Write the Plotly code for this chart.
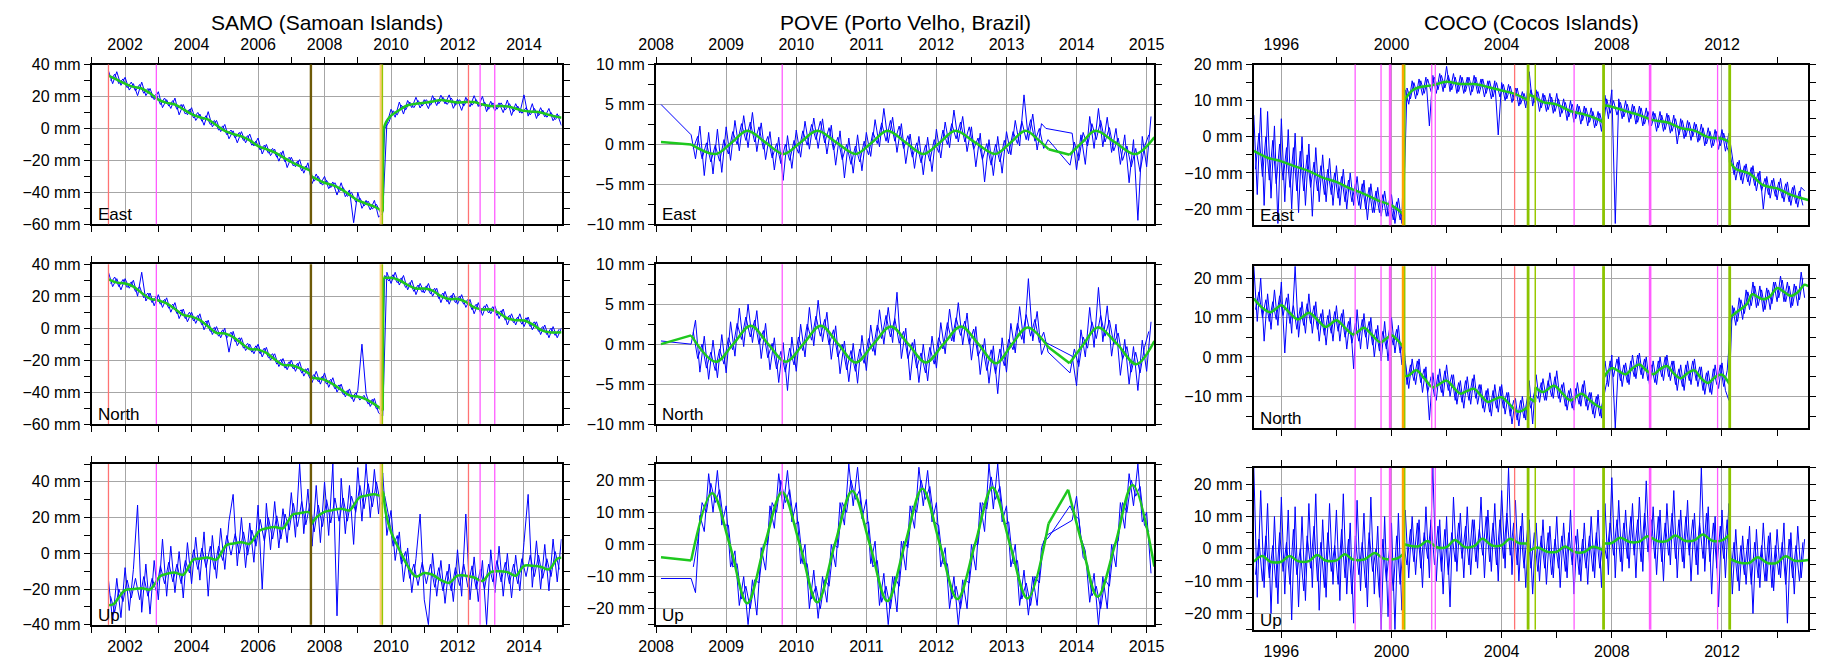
import plotly.graph_objects as go

W, H = 1831, 664


def epochs(t0, step, n):
    """Regular sampling epochs (decimal years)."""
    return [round(t0 + k * step, 5) for k in range(n)]


# ======================= SAMO (Samoan Islands) =======================
samo_t0, samo_step = 2001.5, 0.125

# positions on the main epochs
samo_east = [36, 28, 35.5, 27, 32, 24, 28, 20.5, 29, 20.5,
             25, 18, 23, 13, 18, 12.5, 19, 8.5, 15, 8.5,
             13, 5, 9, 2, 10.5, 1, 5, -2, 2.5, -6.5,
             -1.5, -9, -2, -9, -3.5, -11, -6, -16, -10, -17,
             -13, -20.5, -14, -24.5, -18, -24, -19.5, -28, -21.5, -34.5,
             -28.5, -34.7, -30, -37.7, -33.5, -41.7, -34, -42.7, -38.5, -59,
             -40, -50, -45, -51, -45, -55.5, -53, 3, 12, 7,
             16.5, 9, 17.5, 13, 19.5, 12.8, 18, 12.4, 20.5, 14.3,
             20.8, 15.4, 21, 12.6, 18.2, 11.3, 19.5, 13.5, 20.5, 13.7,
             20, 10.5, 17, 11, 16, 9.9, 17.8, 8.1, 15.5, 9.7,
             21, 7.7, 15.5, 6.2, 13, 7.2, 12.5, 4.8, 9.2, 1.8]
# positions on the intermediate epochs
samo_east_b = [30, 34, 28, 31, 25.5, 29, 23.5, 27.5, 22, 25,
               19, 21.5, 15, 19, 14, 17.5, 12, 15, 9, 12,
               6.5, 10, 4.5, 8, 2.5, 5, -1, 1.5, -4, -1,
               -6, -2.5, -7.5, -4.5, -10.5, -8, -13.5, -10.5, -15.5, -12.5,
               -18, -15, -21, -18, -23.5, -20.5, -26.5, -23.5, -27, -33,
               -30, -35.5, -32.5, -37, -34, -39.5, -37, -42.5, -40, -46,
               -43.5, -48.5, -45.5, -50.5, -47.5, -53, 0, 4, 11, 8.5,
               14.5, 11.5, 16.5, 13, 17.5, 14, 18, 14.5, 19, 15.5,
               19.5, 15, 19, 14.5, 18, 14, 18.5, 14.5, 18, 13.5,
               16.5, 12, 16, 12, 16, 11.5, 15.5, 10.5, 14, 9.5,
               13, 8.5, 12.5, 8, 11.5, 7, 10, 5.5, 8.5]

samo_north = [35, 26, 31, 24, 31, 25, 30, 20, 35, 17,
              22, 14, 21, 13, 19, 10, 16, 6, 12, 4,
              10, 3, 9, -1, 5, -4, 1, -6, 0, -15,
              -2, -11, -6, -14, -10, -16, -10, -18, -12, -20,
              -16, -24, -19, -26, -20, -27, -21, -30, -25, -34,
              -27, -35, -28, -37, -31, -40, -35, -43, -38, -46,
              -39, -10, -41, -49, -44, -53, -55, 35, 28, 35,
              27, 33, 24, 30, 21, 28, 22, 28, 20, 25,
              16, 23, 15, 22, 15, 21, 13, 18, 9, 16,
              8, 15, 9, 14, 6, 12, 2, 9, 2, 9,
              1, 7, -1, 4, -4, 2, -6, 1, -6, 0]
samo_north_b = [28, 32, 26, 30.5, 25.5, 29, 23, 26, 19, 22,
                16, 20, 15, 18, 12.5, 15, 9, 11.5, 6, 10,
                4.5, 8, 2, 4.5, -2, 0.5, -5, -1, -6, -2.5,
                -8.5, -6, -12.5, -9.5, -15, -11, -16, -12.5, -18.5, -16,
                -22.5, -19.5, -25, -21, -25.5, -22, -28, -25.5, -31.5, -29,
                -33.5, -30, -35, -32, -38, -35.5, -41.5, -39, -44, -40.5,
                -45, -42, -47.5, -44.5, -50.5, -48.5, 33, 29.5, 33.5, 28.5,
                31.5, 25.5, 28.5, 23, 27, 22.5, 26.5, 21.5, 25, 18.5,
                22, 16.5, 20.5, 16, 20, 15, 18, 11.5, 15, 10,
                14, 9.5, 13.5, 8, 11, 5, 8, 3.5, 7, 2.5,
                6.5, 1, 4, -2, 1, -4, 0, -4.5, -0.5]

samo_up = [-15, -38, -14, -36, -8, -32, -9, 27, -33, -6,
           -34, -4, -26, 8, -24, 4, -22, 1, -25, 6,
           -17, 9, -15, 12, -24, 10, -14, 14, -9, 18,
           33, -7, 20, -8, 17, -5, 27, -20, 28, 2,
           29, 3, 25, 6, 34, 9, 50, 11, 36, 4,
           38, 6, 40, 10, 50, -35, 42, 11, 38, 5,
           48, 18, 50, 20, 47, 22, 45, 10, 24, -4,
           12, -16, 3, -22, -3, 22, -26, -40, 0, -24,
           -4, -28, -6, -27, 2, -24, 22, -26, -2, -27,
           -4, -40, 2, -22, 4, -24, 0, -25, -1, -21,
           6, 33, -19, 7, -20, 5, -21, 8, -16, 8]
samo_up_b = [-24, -33, -20, -27, -15, -25, -14, -26, -13, -24,
             -14, -21, -7, -17, -5, -16, -6, -17, -4, -11,
             2, -9, 3, -8, 4, -9, 4, -4, 10, -1,
             11, 0, 12, -1, 13, 4, 19, 7, 20, 8,
             21, 8, 22, 13, 28, 15, 29, 16, 28, 12,
             27, 15, 30, 17, 31, 18, 31, 18, 32, 23,
             38, 25, 39, 26, 40, 27, 32, 20, 4, 10,
             -6, 1, -14, -6, -18, -5, -17, -6, -19, -8,
             -21, -10, -21, -8, -18, -6, -19, -7, -20, -9,
             -20, -6, -16, -4, -16, -5, -17, -6, -17, -3,
             -13, -1, -13, -1, -14, -3, -13, 1, -9]

# trajectory model, one list of [year, mm] per segment between offsets
samo_east_fit = [
    [[2001.5, 33], [2001.75, 30.5], [2002.0, 28], [2002.25, 26], [2002.5, 25], [2002.75, 22],
     [2003.0, 18], [2003.25, 16], [2003.5, 15], [2003.75, 12], [2004.0, 9], [2004.25, 7],
     [2004.5, 5.5], [2004.75, 2], [2005.0, -1.5], [2005.25, -3.5], [2005.5, -5], [2005.75, -7.5],
     [2006.0, -11], [2006.25, -13], [2006.5, -15], [2006.75, -18], [2007.0, -21], [2007.25, -23.5],
     [2007.58, -26.5]],
    [[2007.6, -30], [2007.75, -31.5], [2008.0, -34], [2008.25, -35.5], [2008.5, -38],
     [2008.75, -41.5], [2009.0, -45], [2009.25, -47], [2009.5, -49], [2009.75, -52]],
    [[2009.77, -1], [2009.85, 4], [2010.0, 8], [2010.25, 11.5], [2010.5, 14.5], [2010.75, 15.5],
     [2011.0, 16], [2011.25, 16.8], [2011.5, 17.8], [2011.75, 17], [2012.0, 16.2], [2012.25, 16.5],
     [2012.5, 16.5], [2012.75, 15], [2013.0, 14], [2013.25, 14], [2013.5, 13.8], [2013.75, 12.5],
     [2014.0, 11], [2014.25, 10.5], [2014.5, 10], [2014.75, 8.5], [2015.13, 6.7]],
]
samo_north_fit = [
    [[2001.5, 30.5], [2001.75, 28.5], [2002.0, 28], [2002.25, 26], [2002.5, 22], [2002.75, 18.5],
     [2003.0, 17.3], [2003.25, 15.5], [2003.5, 12], [2003.75, 8.3], [2004.0, 7.2], [2004.25, 5],
     [2004.5, 1], [2004.75, -3], [2005.0, -3.3], [2005.25, -5.5], [2005.5, -9.5], [2005.75, -13],
     [2006.0, -13.4], [2006.25, -15.5], [2006.5, -19.5], [2006.75, -23], [2007.0, -23.2],
     [2007.25, -25], [2007.58, -29]],
    [[2007.6, -30.8], [2007.75, -31.3], [2008.0, -32.3], [2008.25, -35], [2008.5, -38.5],
     [2008.75, -42], [2009.0, -42.8], [2009.25, -44.5], [2009.5, -47.5], [2009.75, -51.5]],
    [[2009.77, 31.5], [2010.0, 31.5], [2010.25, 30], [2010.5, 27], [2010.75, 24.8], [2011.0, 24.8],
     [2011.25, 23.5], [2011.5, 20], [2011.75, 18.2], [2012.0, 18.3], [2012.25, 16.5], [2012.5, 13],
     [2012.75, 11.7], [2013.0, 11.7], [2013.25, 9.5], [2013.5, 6.2], [2013.75, 5], [2014.0, 4.8],
     [2014.25, 2.5], [2014.5, -1], [2014.75, -2.5], [2015.13, -2.5]],
]
samo_up_fit = [
    [[2001.5, -29], [2001.65, -28.5], [2001.8, -25], [2002.0, -20.6], [2002.25, -20], [2002.5, -19.5],
     [2002.75, -20.3], [2002.9, -17], [2003.05, -12.8], [2003.25, -11.5], [2003.5, -10.8],
     [2003.75, -12], [2003.9, -8], [2004.05, -3.6], [2004.25, -3], [2004.5, -2.4], [2004.75, -3.5],
     [2004.9, 0.5], [2005.05, 4.6], [2005.25, 5.5], [2005.5, 6.2], [2005.75, 5.3], [2005.9, 9],
     [2006.05, 12.8], [2006.25, 14], [2006.5, 14.8], [2006.75, 14], [2006.9, 18], [2007.05, 21.8],
     [2007.25, 22.5], [2007.5, 23.2], [2007.58, 22.6]],
    [[2007.6, 16.3], [2007.75, 20], [2008.0, 23.2], [2008.25, 24.2], [2008.5, 25], [2008.75, 24],
     [2008.9, 27.5], [2009.05, 31.3], [2009.25, 32.3], [2009.5, 33.1], [2009.7, 32.3], [2009.75, 34.5]],
    [[2009.77, 34], [2009.85, 22], [2010.0, 12], [2010.25, 2], [2010.5, -7], [2010.75, -13],
     [2011.0, -11], [2011.25, -12], [2011.5, -15], [2011.75, -16.5], [2012.0, -12.5], [2012.25, -12.5],
     [2012.5, -13.5], [2012.75, -15.5], [2013.0, -10.5], [2013.25, -10], [2013.5, -10.5],
     [2013.75, -12.5], [2014.0, -7], [2014.25, -7], [2014.5, -7.5], [2014.75, -9], [2015.0, -3],
     [2015.13, -2.5]],
]
samo_events = [[2001.50, 'eq'], [2002.94, 'rx'], [2007.59, 'misc'], [2009.69, 'dome'],
               [2009.74, 'ant'], [2012.33, 'eq'], [2012.68, 'rx'], [2013.12, 'rx']]

# ======================= POVE (Porto Velho, Brazil) =======================
pove_t0, pove_step = 2008.5, 0.0625
pove_first_epoch = 2008.07          # isolated early observation
pove_first = {'East': 5.0, 'North': 0.4, 'Up': -10.6}

pove_east = [1.2, -1.8, 2.3, -3.9, 1.5, -3.7, 1.9, -3.5, 2.2, -2.0,
             3.0, -0.8, 3.6, -0.4, 4.0, -0.9, 2.7, -1.9, 1.6, -3.2,
             0.9, -4.5, 1.1, -3.0, 1.8, -1.6, 2.9, -0.6, 3.3, -0.5,
             3.2, -1.2, 2.4, -2.6, 1.7, -4.2, 0.8, -3.6, 1.2, -3.3,
             1.5, -1.5, 3.1, -0.3, 4.5, 0.2, 3.4, -1.0, 2.6, -2.4,
             1.3, -3.0, 1.0, -3.8, 0.9, -3.4, 1.9, -1.7, 2.8, -0.4,
             4.3, 0.3, 3.5, -0.9, 2.2, -2.8, 1.4, -4.7, 0.6, -3.9,
             1.0, -3.6, 1.6, -1.3, 3.0, -0.2, 6.2, 0.5, 3.8, -0.7,
             2.6, 2.0, None, None, None, None, None, 1.4, -3.2, 1.2,
             -2.5, 3.5, -0.5, 4.5, -0.3, 3.4, -1.0, 2.0, -2.5, 1.2,
             -4.8, 0.6, -9.5, 1.0, -2.8, 3.5]
pove_east_b = [-0.5, 1.0, -1.8, 0.2, -2.2, -0.1, -2.1, 0.6, -1.2, 1.6,
               0.0, 2.6, 0.5, 2.8, 0.3, 2.2, -0.6, 1.0, -1.7, 0.1,
               -2.4, 0.0, -2.0, 0.5, -1.1, 1.7, -0.1, 2.5, 0.6, 2.9,
               0.2, 2.1, -0.7, 0.9, -1.9, 0.0, -2.5, -0.2, -2.2, 0.4,
               -1.3, 1.5, 0.1, 2.7, 0.4, 3.0, 0.4, 2.3, -0.5, 1.1,
               -1.6, 0.2, -2.3, -0.1, -2.1, 0.6, -1.0, 1.8, 0.0, 2.6,
               0.7, 2.8, 0.3, 2.2, -0.6, 0.8, -1.9, 0.1, -2.6, 0.0,
               -2.2, 0.5, -1.2, 1.6, 0.1, 2.9, 0.6, 3.1, 0.4, 2.0,
               -0.5, 0.6, None, None, None, None, -2.6, 0.3, -2.0, 1.5,
               -0.2, 2.6, 0.6, 3.0, 0.3, 2.1, -0.8, 0.8, -2.0, -0.2,
               -2.8, -0.5, -3.4, -0.3, 1.2]

pove_north = [0.0, 3.0, -3.5, 1.0, -4.4, 0.5, -4.2, 1.2, -3.6, 2.8,
              -1.5, 4.5, -0.3, 5.0, 0.2, 4.2, -1.8, 2.6, -3.2, 0.8,
              -4.8, 0.2, -5.8, 0.9, -3.4, 2.5, -1.6, 4.6, -0.2, 5.5,
              0.3, 4.0, -1.9, 2.3, -3.7, 0.4, -4.7, 0.1, -4.9, 1.1,
              -3.3, 2.4, -1.4, 4.3, 0.0, 4.6, 0.2, 6.5, -1.8, 2.0,
              -4.5, 0.6, -4.8, 0.0, -4.6, 1.0, -3.0, 2.7, -1.2, 4.4,
              0.3, 5.2, -0.1, 3.9, -2.0, 2.2, -3.8, 0.7, -4.9, -0.2,
              -6.2, 0.8, -3.5, 2.6, -1.1, 4.7, 0.1, 8.2, 0.4, 4.1,
              -1.3, 0.2, None, None, None, None, None, -1.5, -5.2, 1.8,
              -1.6, 4.6, -0.4, 7.1, 0.3, 4.8, -1.5, 2.5, -3.9, 0.6,
              -5.0, -0.3, -5.8, 0.5, -3.4, 2.8]
pove_north_b = [1.5, -1.8, 0.0, -3.0, -1.0, -3.3, -0.6, -2.5, 0.8, -0.7,
                2.6, 0.6, 3.4, 0.9, 3.0, 0.0, 1.7, -1.7, 0.1, -3.1,
                -0.9, -3.5, -0.5, -2.6, 0.9, -0.8, 2.5, 0.5, 3.5, 1.0,
                3.1, -0.1, 1.8, -1.6, 0.0, -3.2, -0.8, -3.4, -0.6, -2.4,
                0.7, -0.9, 2.4, 0.7, 3.6, 0.9, 3.2, 0.1, 1.6, -1.8,
                0.2, -3.0, -1.1, -3.6, -0.4, -2.5, 0.8, -0.6, 2.7, 0.4,
                3.3, 1.1, 2.9, 0.0, 1.9, -1.5, -0.1, -3.3, -0.7, -3.7,
                -0.6, -2.7, 0.6, -0.7, 2.6, 0.6, 3.7, 1.0, 3.1, 0.2,
                1.5, -1.0, None, None, None, None, -3.6, -0.6, -2.8, 0.9,
                -0.5, 2.8, 0.7, 3.6, 1.0, 3.0, 0.0, 1.4, -1.9, -0.3,
                -3.5, -1.0, -3.6, -0.4, 1.6]

pove_up = [-10.6, -15, 9, 4, 22, 10, 23, 6, 12, -7,
           -2, -19, -10, -25, -11, -22, -1, -8, 12, 5,
           22, 11, 23, 7, 13, -6, 0, -20, -8, -23,
           -10, -18, 0, -7, 13, 6, 25, 12, 24, 8,
           14, -6, 1, -19, -9, -25, -10, -21, 1, -8,
           12, 5, 24, 12, 23, 7, 13, -7, -1, -20,
           -10, -25, -11, -20, 0, -8, 13, 4, 25, 11,
           25, 7, 12, -7, 0, -19, -8, -22, -10, -19,
           -1, 2.7, None, None, None, None, None, 7.5, 15, 2,
           -2, -18, -9, -25, -10, -20, 0, -7, 13, 5,
           22, 12, 25, 7, 10, -9]
pove_up_b = [-7, 1, 13, 10, 19, 13, 17, 6, 6, -7,
             -6, -17, -13, -20, -11, -12, 0, 0, 13, 10,
             20, 13, 17, 6, 7, -6, -6, -17, -13, -20,
             -11, -13, 0, -1, 13, 10, 20, 14, 17, 6,
             7, -7, -5, -18, -13, -20, -10, -13, 1, -1,
             12, 10, 20, 14, 18, 7, 6, -6, -6, -17,
             -13, -20, -11, -12, 0, 0, 13, 11, 21, 14,
             18, 6, 7, -6, -5, -17, -12, -19, -10, -12,
             1, 2, None, None, None, None, 12, 9, 8, -4,
             -6, -16, -13, -20, -11, -13, 0, 1, 13, 10,
             20, 15, 18, 6, 4]

pove_east_fit = [
    [[2008.07, 0.3]],
    [[2008.5, 0.0], [2008.85, -1.2], [2009.08, 0.25], [2009.3, 1.7], [2009.56, 0.25], [2009.82, -1.2],
     [2010.06, 0.25], [2010.3, 1.7], [2010.57, 0.25], [2010.85, -1.2], [2011.08, 0.25], [2011.3, 1.7],
     [2011.56, 0.25], [2011.82, -1.2], [2012.05, 0.25], [2012.27, 1.7], [2012.55, 0.25], [2012.84, -1.2],
     [2013.06, 0.25], [2013.27, 1.7], [2013.45, 0.6], [2013.6, -0.6]],
    [[2013.9, -1.3], [2014.08, 0.25], [2014.27, 1.7], [2014.55, 0.25], [2014.84, -1.2], [2015.11, 0.9]],
]
pove_north_fit = [
    [[2008.07, 0.0]],
    [[2008.5, 1.1], [2008.85, -2.2], [2009.1, 0], [2009.35, 2.3], [2009.6, 0], [2009.85, -2.2],
     [2010.1, 0], [2010.35, 2.3], [2010.6, 0], [2010.85, -2.3], [2011.1, 0], [2011.35, 2.2],
     [2011.6, 0], [2011.85, -2.3], [2012.1, 0], [2012.35, 2.2], [2012.6, 0], [2012.85, -2.4],
     [2013.08, 0], [2013.3, 2.1], [2013.6, -0.4]],
    [[2013.9, -2.4], [2014.1, 0], [2014.3, 2.1], [2014.58, 0], [2014.85, -2.5], [2015.11, 0.4]],
]
pove_up_fit = [
    [[2008.07, -4.0]],
    [[2008.5, -5.0], [2008.8, 15.9], [2009.05, 0], [2009.3, -18.3], [2009.55, 0], [2009.8, 16.2],
     [2010.05, 0], [2010.3, -18], [2010.55, 0], [2010.8, 16.6], [2011.05, 0], [2011.3, -17.6],
     [2011.55, 0], [2011.8, 17.3], [2012.05, 0], [2012.3, -17], [2012.55, 0], [2012.8, 17.7],
     [2013.05, 0], [2013.3, -16.8], [2013.6, 6.5]],
    [[2013.88, 17], [2014.08, 0], [2014.3, -16.3], [2014.55, 0], [2014.8, 18.5], [2015.11, -6.9]],
]
pove_events = [[2009.80, 'rx']]

# ======================= COCO (Cocos Islands) =======================
coco_t0, coco_step = 1995.0, 0.125

coco_east = [6, -16, 8, -19, 7, -17, 3, -24, 5, -18,
             2, -20, 1, -21, 0, -19, -2, -22, -3, -18,
             -5, -18, -6, -19, -8, -19, -9, -20, -10, -19,
             -11, -20, -12, -23, -13, -21, -14, -22, -15, -22,
             -16, -24, -17, -24, 13, 9, 15.5, 10.5, 16, 11.5,
             16.5, 3, 17, 12, 17.5, 12.5, 19.5, 12.5, 17.5, 12,
             17, 12, 16.5, 11.5, 17, 12, 16, 11, 15.5, 10.5,
             15.5, 0.5, 15, 10, 14.5, 9.5, 13.5, 8.5, 12.5, 8,
             18, 8.5, 13, 7, 12, 7, 12, 6.5, 12, 5.5,
             10.5, 4.5, 10, 4, 9, 3.5, 8.5, 3, 8, 2.5,
             7, 1.5, 11.5, 5, 13, -24, 10.5, 5, 10, 4,
             9, 3.5, 8.5, 3, 8, 2.5, 7, 1.5, 7, 1.5,
             6.5, 1, 6, -2, 5, -0.5, 4.5, -1, 4, -1.5,
             3.5, -2.5, 2.5, -3, 2, -3.5, 2, -4, 1, -5,
             -12, -6.5, -13, -7.5, -13.5, -8, -15, -9.5, -20, -11,
             -17, -11.5, -17.5, -11.5, -18, -12.5, -19, -13.5, -19.5, -14,
             -15]
coco_east_b = [-9, 1, -11, 0, -12, -1, -13, -2, -12, -3,
               -14, -3, -15, -4, -15, -5, -14, -7, -15, -8,
               -16, -9, -16, -10, -17, -11, -18, -12, -18, -13,
               -19, -13, -20, -14, -21, -15, -21, -16, -22, -17,
               -23, -18, -23, -20, 13.5, 10.5, 15, 11.5, 15.5, 12,
               16, 12.5, 16.5, 13, 17, 13.5, 17, 13, 16.5, 12.5,
               16.5, 12.5, 16.5, 12.5, 16.5, 12, 16, 12, 15.5, 11,
               15, 11, 14.5, 10.5, 14, 10, 13.5, 9, 12, 8.5,
               13, 9.5, 12.5, 8, 11.5, 7.5, 11, 7, 10.5, 6.5,
               9.5, 5.5, 9, 5, 8.5, 4.5, 8, 4, 7, 3,
               6.5, 2.5, 10.5, 6.5, 10, 6, 9.5, 5.5, 9, 5,
               8.5, 4, 8, 3.5, 7, 3, 6.5, 2.5, 6, 2,
               6, 1.5, 5, 0.5, 4.5, 0, 4, 0, 3.5, -1,
               2.5, -2, 1.5, -2.5, 1.5, -2.5, 1, -3, -5.5, -10.5,
               -7, -12, -8, -12.5, -8.5, -13.5, -10, -15, -11.5, -16,
               -12, -16.5, -12.5, -17, -13, -18, -14, -18.5, -15, -19]

coco_north = [23, 9, 20, 4, 16, 7, 17, 8, 19, 1,
              16, 6, 23, 5, 14, 6, 16, 6, 14, 4,
              12, 3, 12, 4, 13, 4, 12, 2, 10, -3,
              12, 2, 11, 2, 10, 0, 8, -1, 9, -1,
              10, 1, 8, -2, -1, -8, -0.5, -7, -0.5, -9,
              -2.5, -16, -4, -11, -3, -10, -2, -10, -4.5, -12,
              -6, -13, -5, -12, -4.5, -12, -7, -14, -8, -15,
              -7, -14, -7, -14.5, -9, -17, -10.5, -17.5, -10, -16,
              -6, -17, -4.5, -11.5, -5.5, -11, -4, -10.5, -3.5, -11.5,
              -6.5, -13.5, -8, -13.5, -6.5, -12.5, -6, -13.5, -9, -15.5,
              -9.5, -15.5, -1, -7.5, 0.5, -18, 0, -7.5, -1.5, -7,
              0.5, -5.5, 1, -5.5, 0, -7.5, -1, -7, 0, -6,
              0.5, -6, -1, -8.5, -2, -8.5, -1, -7, -0.5, -7.5,
              -2.5, -9.5, -3.5, -9.5, -2, -8, -1.5, -8.5, -11, 13,
              8, 15, 9.5, 17, 12, 19, 12.5, 18, 11.5, 17.5,
              12, 19, 14, 20.5, 14, 19, 12.5, 18.5, 13, 21.5,
              15]
coco_north_b = [12, 16.5, 10, 14.5, 9, 14, 9.5, 15.5, 10.5, 15,
                8.5, 13, 7, 12.5, 8, 13.5, 8.5, 13, 7, 11,
                5.5, 10.5, 6, 11.5, 6.5, 11, 5, 9, 3.5, 8.5,
                4, 9.5, 5, 9, 3, 7, 1.5, 6.5, 2, 7.5,
                3, 7, 1, 4.5, -7, -2, -6, -1, -6.5, -3,
                -9, -5, -10, -4.5, -9, -3.5, -8.5, -4.5, -11, -6.5,
                -11.5, -6, -11, -5.5, -10.5, -7, -13, -8.5, -14, -8.5,
                -13, -7.5, -13, -9, -15, -11, -16, -11, -15.5, -10,
                -13, -9, -10.5, -6.5, -11, -6, -10, -5, -10.5, -7,
                -12.5, -8.5, -13, -8, -12, -7, -12.5, -9, -14.5, -10,
                -15, -11, -6.5, -1, -5, -0.5, -6, -2, -6.5, -1,
                -5, 0.5, -4.5, -0.5, -6, -2, -6.5, -1, -5, 0,
                -5, -1, -7, -3, -7.5, -2, -6, -1, -6, -2.5,
                -8.5, -4, -9, -3, -7, -2, -7.5, -3.5, 8, 12.5,
                9, 14.5, 11, 16.5, 13, 18, 13, 17, 12, 17,
                13.5, 19, 15, 19.5, 14, 18, 13, 18, 14.5, 20]

coco_up = [25, -15, 18, -12, 14, -20, 10, -17, 16, -14,
           12, -22, 13, -18, 10, -16, 14, -12, 17, -19,
           9, -15, 14, -11, 12, -16, 17, -14, 8, -23,
           15, -13, 11, -18, 16, -14, 7, -25, 10, -21,
           8, -25, 11, -19, 12, -9, 10, -8, 9, -12,
           13, -9, 25, -10, 9, -14, 10, -18, 16, -7,
           11, -9, 13, -8, 9, -6, 16, -9, 12, -7,
           14, -10, 18, -6, 25, -8, 15, -10, 11, -12,
           9, -14, 8, -10, 9, -11, 7, -9, 10, -12,
           8, -9, 12, -14, 6, -10, 8, -11, 10, -9,
           12, -12, 14, -8, 22, -9, 15, -7, 12, -6,
           14, -9, 16, -7, 21, -6, 13, -8, 12, -10,
           14, -5, 18, -9, 12, -6, 15, -10, 11, -8,
           25, -7, 13, -14, 10, -18, 12, -9, 14, -14,
           6, -13, 4, -11, 7, -20, 6, -12, 8, -10,
           5, -13, 6, -9, 8, -23, 5, -14, 7, -9,
           3]
coco_up_b = [-8, 3, -10, 4, -9, 1, -12, 5, -7, 2,
             -11, 6, -8, 0, -13, 4, -6, 7, -10, 2,
             -12, 5, -7, 1, -11, 6, -9, 3, -14, 4,
             -8, 2, -12, 5, -7, 0, -15, 3, -10, 1,
             -13, 4, -11, 2, -5, 6, -4, 8, -6, 5,
             -3, 9, -5, 7, -7, 6, -8, 5, -4, 8,
             -3, 7, -5, 9, -4, 6, -2, 10, -4, 8,
             -5, 9, -3, 11, -2, 8, -5, 7, -6, 6,
             -6, 5, -7, 4, -6, 5, -8, 3, -6, 4,
             -7, 5, -5, 4, -8, 3, -6, 4, -7, 5,
             -6, 3, -3, 8, -2, 9, -4, 8, -3, 10,
             -2, 9, -4, 11, -1, 9, -3, 10, -4, 8,
             -2, 11, -3, 9, -4, 10, -2, 9, -5, 8,
             -3, 11, -4, 8, -6, 7, -3, 9, -9, 2,
             -10, 1, -8, 3, -11, 2, -9, 1, -10, 4,
             -12, 1, -8, 2, -11, 3, -9, 1, -10, 2]

coco_east_fit = [
    [[1995.0, -3.9], [1995.5, -5.8], [1996.0, -6.8], [1996.5, -8.2], [1997.0, -9.5], [1997.5, -11.3],
     [1998.0, -12.5], [1998.5, -14.3], [1999.0, -15.8], [1999.5, -17.6], [2000.0, -19], [2000.44, -21.5]],
    [[2000.46, 10], [2000.75, 12.8], [2001.0, 13.7], [2001.5, 14.3], [2002.0, 15.2], [2002.5, 14.6],
     [2003.0, 14.6], [2003.5, 13.8], [2004.0, 12.8], [2004.5, 11.8], [2004.96, 10.1]],
    [[2004.97, 11.7], [2005.21, 11.0]],
    [[2005.23, 10.8], [2005.5, 9.6], [2006.0, 8.9], [2006.5, 7.1], [2007.0, 6.2], [2007.5, 4.8],
     [2007.69, 4.0]],
    [[2007.71, 8.7], [2008.0, 8.3], [2008.5, 7.1], [2009.0, 6.0], [2009.5, 4.6], [2010.0, 4.0],
     [2010.5, 2.4], [2011.0, 1.7], [2011.5, -0.1], [2012.0, -0.5], [2012.27, -1.4]],
    [[2012.29, -7.1], [2012.5, -8.9], [2013.0, -10.2], [2013.5, -13.4], [2014.0, -14.3],
     [2014.5, -16.1], [2015.13, -17.5]],
]
coco_north_fit = [
    [[1995.0, 14.8], [1995.3, 12.5], [1995.6, 11.3], [1995.8, 12.2], [1996.0, 13.1], [1996.3, 11.2],
     [1996.6, 9.5], [1996.8, 10.3], [1997.0, 11.2], [1997.3, 9.5], [1997.6, 7.6], [1997.8, 8.4],
     [1998.0, 9.3], [1998.3, 7.5], [1998.6, 5.7], [1998.8, 6.5], [1999.0, 7.4], [1999.3, 5.5],
     [1999.6, 3.7], [1999.8, 4.6], [2000.0, 5.5], [2000.2, 4.4], [2000.44, 2.4]],
    [[2000.46, -4.8], [2000.6, -4.8], [2000.9, -3.4], [2001.2, -5.5], [2001.5, -7.7], [2001.75, -6.8],
     [2002.0, -6.0], [2002.25, -7.7], [2002.5, -9.3], [2002.75, -8.6], [2003.0, -8.1],
     [2003.25, -9.8], [2003.5, -11.4], [2003.75, -10.7], [2004.0, -10.2], [2004.3, -12.1],
     [2004.6, -13.9], [2004.96, -12.6]],
    [[2004.97, -10.2], [2005.21, -11.4]],
    [[2005.23, -7.7], [2005.5, -8.9], [2005.9, -7.3], [2006.2, -9.2], [2006.5, -11.0], [2006.9, -9.3],
     [2007.2, -11.0], [2007.5, -12.5], [2007.69, -13.0]],
    [[2007.71, -5.2], [2008.0, -2.8], [2008.25, -3.6], [2008.5, -4.4], [2008.75, -2.9], [2009.0, -1.9],
     [2009.25, -3.4], [2009.5, -4.4], [2009.75, -3.1], [2010.0, -2.3], [2010.25, -4.2],
     [2010.5, -5.4], [2010.75, -4.1], [2011.0, -3.4], [2011.25, -5.5], [2011.5, -6.6],
     [2011.75, -5.1], [2012.0, -4.5], [2012.27, -6.9]],
    [[2012.29, 10.1], [2012.5, 11.2], [2012.9, 13.4], [2013.1, 15.9], [2013.3, 15.2], [2013.5, 14.6],
     [2013.75, 15.4], [2014.0, 17.5], [2014.25, 16.5], [2014.5, 15.5], [2014.75, 16.4],
     [2015.0, 18.3], [2015.13, 17.9]],
]
coco_up_fit = [
    [[1995.0, -4], [1995.3, -2.2], [1995.6, -4], [1996.0, -4], [1996.3, -2.2], [1996.6, -3.8],
     [1997.0, -3.8], [1997.3, -1.9], [1997.6, -3.6], [1998.0, -3.6], [1998.3, -1.7], [1998.6, -3.3],
     [1999.0, -3.3], [1999.4, -1.3], [1999.7, -3], [2000.2, -3], [2000.44, -1.5]],
    [[2000.46, 1.4], [2000.75, 0.8], [2001.0, 0.8], [2001.3, 2.4], [2001.65, 0.5], [2002.0, 0.5],
     [2002.3, 2.7], [2002.65, 0.6], [2003.0, 0.8], [2003.3, 3.1], [2003.65, 1.0], [2004.0, 1.1],
     [2004.3, 3.1], [2004.65, 1.7], [2004.96, 1.7]],
    [[2004.97, -0.8], [2005.3, 0.4], [2005.65, -0.9], [2006.0, -0.9], [2006.3, 0.7], [2006.65, -1.0],
     [2007.0, -1.0], [2007.3, 0.6], [2007.69, -0.5]],
    [[2007.71, 1.7], [2008.0, 1.8], [2008.3, 3.4], [2008.65, 2.1], [2009.0, 2.2], [2009.3, 3.9],
     [2009.65, 2.4], [2010.0, 2.4], [2010.3, 4.1], [2010.65, 2.5], [2011.0, 2.6], [2011.3, 4.4],
     [2011.65, 2.5], [2012.0, 2.6], [2012.27, 4.4]],
    [[2012.29, -3.1], [2012.7, -4.4], [2013.0, -4.3], [2013.3, -2.6], [2013.65, -4.4], [2014.0, -4.3],
     [2014.3, -2.3], [2014.65, -3.7], [2015.0, -3.6], [2015.13, -3.5]],
]
coco_events = [[1998.68, 'rx'], [1999.62, 'rx'], [1999.95, 'rx2'], [2000.42, 'dome2'], [2000.48, 'ant'],
               [2001.46, 'rx'], [2001.59, 'rx'], [2004.47, 'eq'], [2004.96, 'ant2'], [2005.22, 'ant'],
               [2006.63, 'rx'], [2007.70, 'ant2'], [2009.39, 'rx2'], [2011.84, 'rx'], [2012.28, 'ant2']]

# ======================= styling =======================
FONT = 'Liberation Sans, Arial, Helvetica, sans-serif'
DATA_COLOR = '#0000ff'
FIT_COLOR = '#1ec81e'
GRID_COLOR = '#a6a6a6'
EVENT_STYLE = {
    'eq': ('#ff7373', 1.3),
    'rx': ('#ff5cff', 1.3),
    'rx2': ('#ff5cff', 2.6),
    'ant': ('#98c800', 1.5),
    'ant2': ('#8cc400', 2.8),
    'dome': ('#ffc875', 2.2),
    'dome2': ('#ffa500', 2.6),
    'misc': ('#6e5a08', 2.4),
}

samo_x = epochs(samo_t0, samo_step, len(samo_east))
samo_xb = epochs(samo_t0 + samo_step / 2, samo_step, len(samo_east_b))
pove_x = [pove_first_epoch] + epochs(pove_t0, pove_step, len(pove_east))
pove_xb = epochs(pove_t0 + pove_step / 2, pove_step, len(pove_east_b))
coco_x = epochs(coco_t0, coco_step, len(coco_east))
coco_xb = epochs(coco_t0 + coco_step / 2, coco_step, len(coco_east_b))

stations = [
    dict(title='SAMO (Samoan Islands)', cols=(75, 552),
         rows=[(58, 222), (263, 427), (468, 633)],
         xrange=(2001.0, 2015.13), xdtick=2, xtick0=2000, xminor=1, events=samo_events,
         comps=[('East', [(samo_x, samo_east), (samo_xb, samo_east_b)], samo_east_fit, (-60, 40), 20, 10),
                ('North', [(samo_x, samo_north), (samo_xb, samo_north_b)], samo_north_fit, (-60, 40), 20, 10),
                ('Up', [(samo_x, samo_up), (samo_xb, samo_up_b)], samo_up_fit, (-40, 50), 20, 10)]),
    dict(title='POVE (Porto Velho, Brazil)', cols=(648, 1154),
         rows=[(58, 222), (263, 427), (468, 633)],
         xrange=(2008.0, 2015.11), xdtick=1, xtick0=2008, xminor=0.5, events=pove_events,
         comps=[('East', [(pove_x, [pove_first['East']] + pove_east), (pove_xb, pove_east_b)],
                 pove_east_fit, (-10, 10), 5, 2.5),
                ('North', [(pove_x, [pove_first['North']] + pove_north), (pove_xb, pove_north_b)],
                 pove_north_fit, (-10, 10), 5, 2.5),
                ('Up', [(pove_x, [pove_first['Up']] + pove_up), (pove_xb, pove_up_b)],
                 pove_up_fit, (-25, 25), 10, 5)]),
    dict(title='COCO (Cocos Islands)', cols=(1255, 1818),
         rows=[(58, 223), (265, 431), (472, 638)],
         xrange=(1995.0, 2015.13), xdtick=4, xtick0=1996, xminor=2, events=coco_events,
         comps=[('East', [(coco_x, coco_east), (coco_xb, coco_east_b)], coco_east_fit, (-24.5, 20), 10, 5),
                ('North', [(coco_x, coco_north), (coco_xb, coco_north_b)], coco_north_fit, (-18, 23), 10, 5),
                ('Up', [(coco_x, coco_up), (coco_xb, coco_up_b)], coco_up_fit, (-25, 25), 10, 5)]),
]

fig = go.Figure()
layout = dict(
    width=W, height=H, margin=dict(l=0, r=0, t=0, b=0),
    paper_bgcolor='white', plot_bgcolor='white', showlegend=False,
    font=dict(family=FONT, size=16, color='black'),
    shapes=[], annotations=[],
)

n = 0
for st in stations:
    c0, c1 = st['cols']
    layout['annotations'].append(dict(
        text=st['title'], xref='paper', yref='paper', x=(c0 + c1) / 2 / W, y=1 - 15 / H,
        xanchor='center', yanchor='middle', showarrow=False,
        font=dict(family=FONT, size=21, color='black')))
    for r, (label, obs, fit, yr, ydt, ymin) in enumerate(st['comps']):
        n += 1
        xa = 'x' if n == 1 else f'x{n}'
        ya = 'y' if n == 1 else f'y{n}'
        top, bot = st['rows'][r]
        side = 'top' if r == 0 else 'bottom'
        layout['xaxis' if n == 1 else f'xaxis{n}'] = dict(
            domain=[c0 / W, c1 / W], anchor=ya, range=list(st['xrange']),
            dtick=st['xdtick'], tick0=st['xtick0'], tickformat='d',
            side=side, showticklabels=(r != 1),
            ticks='outside', ticklen=6, tickwidth=1, tickcolor='black',
            showline=True, linecolor='black', linewidth=2, mirror='ticks',
            showgrid=True, gridcolor=GRID_COLOR, gridwidth=1, zeroline=False,
            minor=dict(dtick=st['xminor'], ticks='outside', ticklen=6, tickcolor='black', showgrid=False),
            tickfont=dict(family=FONT, size=16, color='black'),
        )
        layout['yaxis' if n == 1 else f'yaxis{n}'] = dict(
            domain=[1 - bot / H, 1 - top / H], anchor=xa, range=list(yr),
            dtick=ydt, tick0=0, ticksuffix=' mm',
            ticks='outside', ticklen=6, tickwidth=1, tickcolor='black',
            showline=True, linecolor='black', linewidth=2, mirror='ticks',
            showgrid=True, gridcolor=GRID_COLOR, gridwidth=1, zeroline=False,
            minor=dict(dtick=ymin, ticks='outside', ticklen=6, tickcolor='black', showgrid=False),
            tickfont=dict(family=FONT, size=16, color='black'),
        )

        # observed daily positions
        for xs, ys in obs:
            fig.add_trace(go.Scatter(x=xs, y=ys, xaxis=xa, yaxis=ya, mode='lines',
                                     connectgaps=True, hoverinfo='skip',
                                     line=dict(color=DATA_COLOR, width=1)))
        # offsets between model segments
        cx, cy = [], []
        for a, b in zip(fit[:-1], fit[1:]):
            cx += [a[-1][0], b[0][0], None]
            cy += [a[-1][1], b[0][1], None]
        fig.add_trace(go.Scatter(x=cx, y=cy, xaxis=xa, yaxis=ya, mode='lines',
                                 hoverinfo='skip', line=dict(color=FIT_COLOR, width=2.5)))
        # smooth trajectory model
        fx, fy = [], []
        for seg in fit:
            fx += [p[0] for p in seg] + [None]
            fy += [p[1] for p in seg] + [None]
        fig.add_trace(go.Scatter(x=fx, y=fy, xaxis=xa, yaxis=ya, mode='lines',
                                 connectgaps=False, hoverinfo='skip',
                                 line=dict(color=FIT_COLOR, width=2.5, shape='spline', smoothing=1)))

        # equipment changes and earthquakes
        for t, kind in st['events']:
            col, wd = EVENT_STYLE[kind]
            layout['shapes'].append(dict(
                type='line', xref=xa, yref=f'{ya} domain', x0=t, x1=t, y0=0, y1=1,
                line=dict(color=col, width=wd), layer='above'))

        layout['annotations'].append(dict(
            text=label, xref=f'{xa} domain', yref=f'{ya} domain', x=0, y=0,
            xanchor='left', yanchor='bottom', xshift=4, yshift=-2, showarrow=False,
            font=dict(family=FONT, size=17, color='black')))

fig.update_layout(**layout)
fig.write_html('out.html')
